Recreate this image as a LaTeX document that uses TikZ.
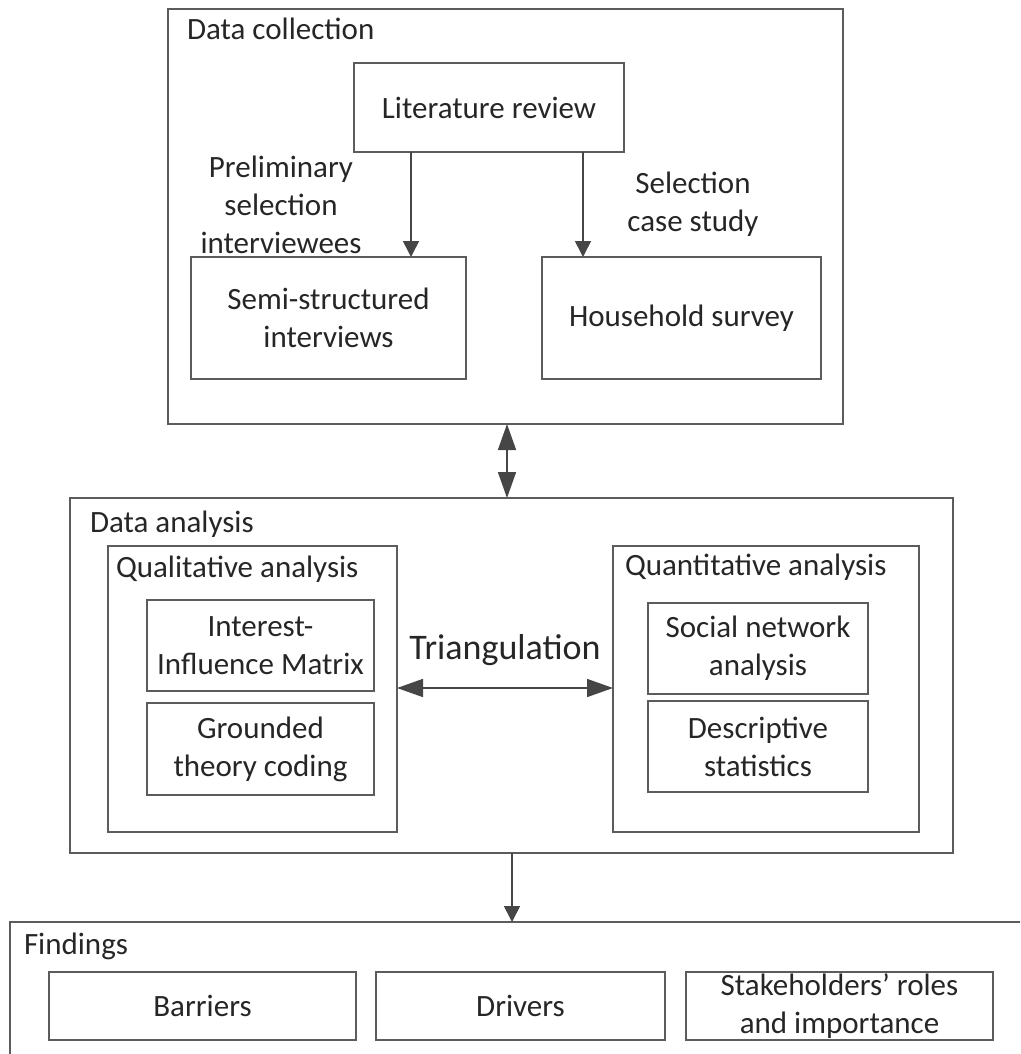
\documentclass[tikz,border=0pt]{standalone}
\usepackage{fontspec}
\setmainfont{Carlito}
\usetikzlibrary{arrows.meta}
\definecolor{edge}{HTML}{5C5C5C}
\definecolor{ink}{HTML}{262626}
\definecolor{arrowc}{HTML}{464646}
\begin{document}
\begin{tikzpicture}[x=1pt,y=-1pt,
  every node/.style={inner sep=0pt,outer sep=0pt,text=ink,
    font=\fontsize{31}{38}\selectfont},
  frame/.style={draw=edge,line width=1.6pt,align=center},
  title/.style={anchor=base west},
  note/.style={align=center},
  bigtip/.tip={Triangle[length=26pt,width=18pt]},
  smalltip/.tip={Triangle[length=16pt,width=16pt]},
  link/.style={draw=arrowc,line width=1.6pt}
]
\useasboundingbox (0,0) rectangle (1020,1054);
\clip (0,0) rectangle (1020,1054);

% ---- Data collection ----
\node[frame,minimum width=675pt,minimum height=415pt] (collection) at (505.5,216.5) {};
\node[title] (collectiont) at (187,40) {Data collection};
\node[frame,minimum width=270pt,minimum height=89pt] (lit) at (489,107.5) {Literature review};
\node[frame,minimum width=275pt,minimum height=122pt] (semi) at (328.5,318) {Semi-structured\\interviews};
\node[frame,minimum width=279pt,minimum height=122pt] (house) at (681.5,318) {Household survey};
\node[note] (prelim) at (281,205) {Preliminary\\selection\\interviewees};
\node[note] (selcase) at (693,204) {Selection\\case study};

\coordinate (xa) at (411,0);
\coordinate (xb) at (583,0);
\draw[link,-smalltip] (lit.south -| xa) -- (semi.north -| xa);
\draw[link,-smalltip] (lit.south -| xb) -- (house.north -| xb);

% ---- Data analysis ----
\node[frame,minimum width=883pt,minimum height=355pt] (analysis) at (511.5,675.5) {};
\node[title] (analysist) at (90,532) {Data analysis};

\node[frame,minimum width=289pt,minimum height=286pt] (quali) at (252.5,689) {};
\node[title] (qualit) at (116,577) {Qualitative analysis};
\node[frame,minimum width=227pt,minimum height=91pt] (interest) at (260.5,645.5) {Interest-\\Influence Matrix};
\node[frame,minimum width=227pt,minimum height=92pt] (grounded) at (260.5,749) {Grounded\\theory coding};

\node[frame,minimum width=306pt,minimum height=286pt] (quanti) at (766,689) {};
\node[title] (quantit) at (625,575) {Quantitative analysis};
\node[frame,minimum width=220pt,minimum height=91pt] (social) at (758,648.5) {Social network\\analysis};
\node[frame,minimum width=220pt,minimum height=91pt] (descr) at (758,746.5) {Descriptive\\statistics};

\node[font=\fontsize{36}{42}\selectfont] (triang) at (505,650) {Triangulation};
\coordinate (yt) at (0,688);
\draw[link,bigtip-bigtip] (quali.east |- yt) -- (quanti.west |- yt);

\coordinate (xc) at (507,0);
\draw[link,bigtip-bigtip] (collection.south -| xc) -- (analysis.north -| xc);

% ---- Findings ----
\node[frame,minimum width=1030pt,minimum height=160pt] (findings) at (525,1002) {};
\node[title] (findingst) at (24,954) {Findings};
\node[frame,minimum width=307pt,minimum height=68pt] (barriers) at (202.5,1006) {Barriers};
\node[frame,minimum width=289pt,minimum height=68pt] (drivers) at (520.5,1006) {Drivers};
\node[frame,minimum width=307pt,minimum height=68pt] (stake) at (839.5,1006) {Stakeholders’ roles\\and importance};

\coordinate (xd) at (512,0);
\draw[link,-smalltip] (analysis.south -| xd) -- (findings.north -| xd);
\end{tikzpicture}
\end{document}
